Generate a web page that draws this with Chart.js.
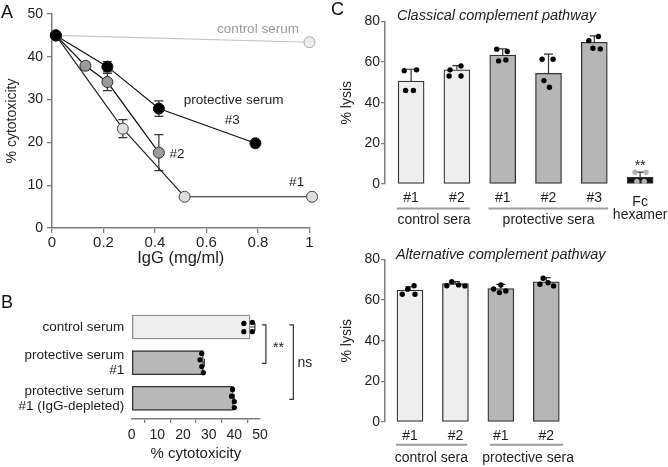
<!DOCTYPE html>
<html>
<head>
<meta charset="utf-8">
<title>Cytotoxicity and complement lysis</title>
<script src="https://cdn.jsdelivr.net/npm/chart.js@4.4.1/dist/chart.umd.min.js"></script>
<style>
  html, body { margin: 0; padding: 0; background: #fff; }
  body { position: relative; width: 668px; height: 467px; overflow: hidden;
         font-family: "Liberation Sans", Arial, sans-serif; }
  canvas { position: absolute; }
  .tag { position: absolute; font-size: 18px; line-height: 18px; color: #111; }
</style>
</head>
<body>
<canvas id="chartA" width="330" height="270" style="left:0;top:0"></canvas>
<canvas id="chartB" width="330" height="177" style="left:0;top:290px"></canvas>
<canvas id="chartC1" width="338" height="232" style="left:330px;top:0"></canvas>
<canvas id="chartC2" width="338" height="232" style="left:330px;top:235px"></canvas>
<div class="tag" style="left:1px;top:3px">A</div>
<div class="tag" style="left:1px;top:293px">B</div>
<div class="tag" style="left:331px;top:0px">C</div>
<script>
const FONT = '"Liberation Sans", Arial, Helvetica, sans-serif';

// panel A - cytotoxicity vs IgG dose
const doseCtrl = [0.015, 1.0];
const cytoCtrl = [45.0, 43.4];
const doseS1 = [0.015, 0.275, 0.515, 1.01];
const cytoS1 = [45.0, 23.2, 7.3, 7.3];
const errS1 = [0, 2.1, 0, 0];
const doseS2 = [0.015, 0.13, 0.215, 0.415];
const cytoS2 = [45.0, 37.9, 34.1, 17.6];
const errS2 = [0, 0.8, 2.0, 4.2];
const doseS3 = [0.015, 0.215, 0.415, 0.79];
const cytoS3 = [45.0, 37.7, 27.9, 19.8];
const errS3 = [0, 1.2, 1.8, 0];
const xTicksA = [0, 0.2, 0.4, 0.6, 0.8, 1];
const yTicksA = [0, 10, 20, 30, 40, 50];

// panel B - cytotoxicity per serum
const seraB = [['control serum'], ['protective serum', '#1'], ['protective serum', '#1 (IgG-depleted)']];
const cytoB = [46.1, 27.9, 39.6];
const errB = [1.9, 0.4, 0.4];
const repsB = [[43.7, 47.0, 43.7, 47.0], [27.3, 26.6, 27.3, 27.9], [39.3, 38.9, 40.0, 40.0]];
const jitB = [[-0.1, -0.13, 0.13, 0.13], [-0.26, -0.08, 0.11, 0.28], [-0.25, -0.06, 0.09, 0.26]];
const xTicksB = [0, 10, 20, 30, 40, 50];

// panel C - classical pathway
const seraC1 = ['#1', '#2', '#1', '#2', '#3', ''];
const groupC1 = ['control', 'control', 'protective', 'protective', 'protective', 'fc'];
const lysisC1 = [50.7, 56.2, 63.5, 54.5, 69.8, 3.3];
const errC1 = [5.8, 2.1, 3.0, 9.4, 3.1, 2.5];
const repsC1 = [[55.8, 56.2, 46.0, 46.0], [56.2, 58.1, 53.2, 53.2], [66.4, 65.2, 60.6, 61.1],
                [61.4, 61.4, 50.9, 47.6], [70.6, 72.6, 66.8, 66.5], [5.8, 5.8, 1.2, 1.2]];
const jitC1 = [[-0.15, 0.12, -0.12, 0.05], [-0.15, 0.09, -0.17, 0.09], [-0.13, 0.10, -0.09, 0.07],
               [-0.14, 0.10, -0.10, 0.02], [-0.12, 0.09, -0.03, 0.13], [-0.11, 0.13, -0.07, 0.09]];

// panel C - alternative pathway
const seraC2 = ['#1', '#2', '#1', '#2'];
const groupC2 = ['control', 'control', 'protective', 'protective'];
const lysisC2 = [65.0, 68.1, 65.7, 69.0];
const errC2 = [1.6, 1.0, 2.1, 2.1];
const repsC2 = [[62.9, 65.4, 67.1, 62.9], [67.1, 69.1, 67.5, 67.0], [65.5, 67.5, 63.7, 64.5], [70.8, 67.8, 68.6, 67.0]];
const jitC2 = [[-0.17, -0.05, 0.09, 0.11], [-0.19, -0.08, 0.07, 0.21], [-0.16, 0, -0.03, 0.11], [-0.07, -0.14, 0.04, 0.16]];
const yTicksC = [0, 20, 40, 60, 80];

const AXIS = '#7d7d7d';
const FILL = { control: '#eeeeee', protective: '#b6b6b6', fc: '#111111' };
const DOT = { control: '#000', protective: '#000', fc: '#b4b4b4' };

Chart.defaults.font.family = FONT;
Chart.defaults.font.size = 14;
Chart.defaults.color = '#1e1e1e';
Chart.defaults.animation = false;
Chart.defaults.plugins.legend.display = false;
Chart.defaults.plugins.tooltip.enabled = false;

// error bars, text and bracket lines, all placed through the chart scales
const overlay = {
  id: 'overlay',
  beforeDatasetsDraw(chart, args, opts) {
    const { ctx, scales: { x, y } } = chart;
    ctx.save();
    ctx.strokeStyle = '#333';
    ctx.lineWidth = 1.2;
    (opts.errs || []).forEach(e => {
      ctx.beginPath();
      if (e.dir === 'right') {
        const py = y.getPixelForValue(e.y);
        const x0 = x.getPixelForValue(e.x - e.err);
        const x1 = x.getPixelForValue(e.x + e.err);
        ctx.moveTo(x0, py); ctx.lineTo(x1, py);
        ctx.moveTo(x1, py - 4); ctx.lineTo(x1, py + 4);
      } else {
        const px = x.getPixelForValue(e.x);
        const y0 = y.getPixelForValue(e.dir === 'up' ? e.y : e.y - e.err);
        const y1 = y.getPixelForValue(e.y + e.err);
        ctx.moveTo(px, y0); ctx.lineTo(px, y1);
        ctx.moveTo(px - 4.5, y1); ctx.lineTo(px + 4.5, y1);
        if (e.dir !== 'up') { ctx.moveTo(px - 4.5, y0); ctx.lineTo(px + 4.5, y0); }
      }
      ctx.stroke();
    });
    ctx.restore();
  },
  afterDraw(chart, args, opts) {
    const { ctx, scales: { x, y } } = chart;
    ctx.save();
    (opts.lines || []).forEach(l => {
      ctx.beginPath();
      ctx.strokeStyle = l.color || '#333';
      ctx.lineWidth = l.width || 1.2;
      l.pts.forEach((p, i) => {
        const px = x.getPixelForValue(p[0]), py = y.getPixelForValue(p[1]);
        if (i === 0) ctx.moveTo(px, py); else ctx.lineTo(px, py);
      });
      ctx.stroke();
    });
    ctx.textBaseline = 'middle';
    (opts.notes || []).forEach(n => {
      ctx.font = n.f || ('14px ' + FONT);
      ctx.fillStyle = n.color || '#1e1e1e';
      ctx.textAlign = n.align || 'center';
      ctx.fillText(n.text, x.getPixelForValue(n.x), y.getPixelForValue(n.y));
    });
    ctx.restore();
  }
};
Chart.register(overlay);

function axisStyle(len) {
  return {
    grid: { display: true, drawOnChartArea: false, drawTicks: true, tickLength: len, color: AXIS, lineWidth: 1.3 },
    border: { display: true, color: AXIS, width: 1.5 }
  };
}
function pts(xs, ys) { return xs.map((v, i) => ({ x: v, y: ys[i] })); }
function bars(errs, xs, ys, dir) {
  return xs.map((v, i) => ({ x: v, y: ys[i], err: errs[i], dir: dir })).filter(e => e.err > 0);
}
function lineSet(xs, ys, line, fill, edge) {
  return {
    data: pts(xs, ys), showLine: true, borderColor: line, borderWidth: 1.2,
    pointRadius: 5.5, pointBackgroundColor: fill, pointBorderColor: edge, pointBorderWidth: 1, clip: false
  };
}
// tick labels on category axes are drawn by the overlay: chart.js label padding
// otherwise pushes the chart area away from where the figure has it
const hiddenAxis = { grid: { display: false, drawTicks: false }, border: { display: false }, ticks: { display: false } };

// ---------- A ----------
const smallA = '13.5px ' + FONT;
new Chart(document.getElementById('chartA'), {
  type: 'scatter',
  data: {
    datasets: [
      lineSet(doseS3, cytoS3, '#111', '#000', '#111'),
      lineSet(doseS2, cytoS2, '#111', '#9a9a9a', '#333'),
      lineSet(doseS1, cytoS1, '#222', '#dedede', '#444'),
      lineSet(doseCtrl, cytoCtrl, '#c4c4c4', '#ececec', '#a9a9a9')
    ]
  },
  options: {
    responsive: false,
    layout: { padding: { left: 0, top: 14, right: 20.5, bottom: 0 } },
    scales: {
      x: {
        type: 'linear', min: 0, max: 1, ...axisStyle(5),
        afterFit: s => { s.height = 42; },
        afterBuildTicks: s => { s.ticks = xTicksA.map(v => ({ value: v })); },
        ticks: { padding: 1.2, maxRotation: 0, autoSkip: false, font: { size: 15 }, callback: v => String(v) },
        title: { display: true, text: 'IgG (mg/ml)', font: { size: 16.5 }, padding: { top: 0, bottom: 2.1 } }
      },
      y: {
        type: 'linear', min: 0, max: 50, ...axisStyle(5),
        afterFit: s => { s.width = 52; },
        afterBuildTicks: s => { s.ticks = yTicksA.map(v => ({ value: v })); },
        ticks: { padding: 4, callback: v => String(v) },
        title: { display: true, text: '% cytotoxicity', padding: { top: 3.6, bottom: 0 } }
      }
    },
    plugins: {
      overlay: {
        errs: [...bars(errS3, doseS3, cytoS3, 'both'), ...bars(errS2, doseS2, cytoS2, 'both'), ...bars(errS1, doseS1, cytoS1, 'both')],
        notes: [
          { text: 'control serum', x: 0.80, y: 46.4, color: '#9a9a9a', f: smallA },
          { text: 'protective serum', x: 0.705, y: 29.9, f: smallA },
          { text: '#3', x: 0.70, y: 25.2, f: smallA },
          { text: '#2', x: 0.485, y: 17.3, f: smallA },
          { text: '#1', x: 0.95, y: 10.6, f: smallA }
        ]
      }
    }
  }
});

// ---------- B ----------
const dotsB = [];
repsB.forEach((row, i) => row.forEach((v, k) => dotsB.push({ x: v, y: i + jitB[i][k] })));
// serum names on the left, one note per text line, right-aligned next to the bars
const namesB = [];
seraB.forEach((lines, i) => lines.forEach((t, k) => {
  namesB.push({ text: t, x: -2.9, y: i + (k - (lines.length - 1) / 2) * 0.42, align: 'right', f: '13.5px ' + FONT });
}));
new Chart(document.getElementById('chartB'), {
  type: 'bar',
  data: {
    datasets: [
      {
        type: 'bar', indexAxis: 'y', data: cytoB.map((v, i) => ({ x: v, y: i })),
        backgroundColor: ['#efefef', '#b9b9b9', '#b9b9b9'], borderColor: ['#8c8c8c', '#333', '#333'],
        borderWidth: 1.3, borderSkipped: false, barThickness: 24, order: 1
      },
      { type: 'scatter', data: dotsB, pointRadius: 2.6, pointBackgroundColor: '#000', pointBorderWidth: 0, clip: false, order: 0 }
    ]
  },
  options: {
    responsive: false,
    layout: { padding: { left: 0, top: 19.2, right: 70, bottom: 0 } },
    scales: {
      x: {
        type: 'linear', position: 'bottom', min: 0, max: 50, offset: false, ...axisStyle(4),
        afterFit: s => { s.height = 48; },
        afterBuildTicks: s => { s.ticks = xTicksB.map(v => ({ value: v })); },
        ticks: { padding: 3.6, maxRotation: 0, autoSkip: false, callback: v => String(v) },
        title: { display: true, text: '% cytotoxicity', font: { size: 15 }, padding: { top: 0, bottom: 4 } }
      },
      y: {
        type: 'linear', position: 'left', reverse: true, min: -0.5, max: 2.58, offset: false, ...hiddenAxis,
        afterFit: s => { s.width = 131.7; }
      }
    },
    plugins: {
      overlay: {
        errs: bars(errB, cytoB, [0, 1, 2], 'right'),
        lines: [
          { pts: [[50.7, -0.06], [52.3, -0.06], [52.3, 1.02], [50.7, 1.02]] },
          { pts: [[61.4, -0.06], [63.0, -0.06], [63.0, 2.03], [61.4, 2.03]] }
        ],
        notes: [
          ...namesB,
          { text: '**', x: 57.2, y: 0.59 },
          { text: 'ns', x: 67.5, y: 1.0 }
        ]
      }
    }
  }
});

// ---------- C ----------
function lysisChart(id, sera, groups, lysis, errs, reps, jit, xmin, xmax, pad, xh, extra) {
  const dots = [], dotCol = [];
  reps.forEach((row, i) => row.forEach((v, k) => {
    dots.push({ x: i + jit[i][k], y: v });
    dotCol.push(DOT[groups[i]]);
  }));
  const names = sera.map((t, i) => ({ text: t, x: i, y: -6.9 }));
  return new Chart(document.getElementById(id), {
    type: 'bar',
    data: {
      datasets: [
        {
          data: lysis.map((v, i) => ({ x: i, y: v })),
          backgroundColor: groups.map(g => FILL[g]), borderColor: '#333',
          borderWidth: 1.3, borderSkipped: false, barThickness: 26, order: 1
        },
        { type: 'scatter', data: dots, pointRadius: 2.7, pointBackgroundColor: dotCol, pointBorderWidth: 0, clip: false, order: 0 }
      ]
    },
    options: {
      responsive: false,
      layout: { padding: pad },
      scales: {
        x: {
          type: 'linear', min: xmin, max: xmax, offset: false, ...hiddenAxis,
          afterFit: s => { s.height = xh; }
        },
        y: {
          type: 'linear', min: 0, max: 80, ...axisStyle(4),
          afterFit: s => { s.width = 55; },
          afterBuildTicks: s => { s.ticks = yTicksC.map(v => ({ value: v })); },
          ticks: { padding: 1, callback: v => String(v) },
          title: { display: true, text: '% lysis', padding: { top: 8.3, bottom: 0 } }
        }
      },
      plugins: {
        overlay: {
          errs: bars(errs, lysis.map((_, i) => i), lysis, 'up'),
          lines: extra.lines,
          notes: [...names, ...extra.notes]
        }
      }
    }
  });
}

const italic = 'italic 14.5px ' + FONT;
const GROUPLINE = '#9c9c9c';
lysisChart('chartC1', seraC1, groupC1, lysisC1, errC1, repsC1, jitC1, -0.57, 5.5,
  { left: 0, top: 21.5, right: 5, bottom: 0 }, 48, {
    lines: [
      { pts: [[-0.31, -12], [1.28, -12]], color: GROUPLINE, width: 2 },
      { pts: [[1.69, -12], [4.3, -12]], color: GROUPLINE, width: 2 }
    ],
    notes: [
      { text: 'Classical complement pathway', x: -0.31, y: 82.8, align: 'left', f: italic },
      { text: 'control sera', x: 0.5, y: -17.7 },
      { text: 'protective sera', x: 3, y: -17.7 },
      { text: 'Fc', x: 5, y: -8.9 },
      { text: 'hexamer', x: 5, y: -15.3 },
      { text: '**', x: 5, y: 8.9 }
    ]
  });

lysisChart('chartC2', seraC2, groupC2, lysisC2, errC2, repsC2, jitC2, -0.55, 3.5,
  { left: 0, top: 24.5, right: 99, bottom: 0 }, 45, {
    lines: [
      { pts: [[-0.31, -11.2], [1.26, -11.2]], color: GROUPLINE, width: 2 },
      { pts: [[1.76, -11.2], [3.37, -11.2]], color: GROUPLINE, width: 2 }
    ],
    notes: [
      { text: 'Alternative complement pathway', x: -0.31, y: 82.3, align: 'left', f: italic },
      { text: 'control sera', x: 0.47, y: -17.9 },
      { text: 'protective sera', x: 2.6, y: -17.9 }
    ]
  });
</script>
</body>
</html>
